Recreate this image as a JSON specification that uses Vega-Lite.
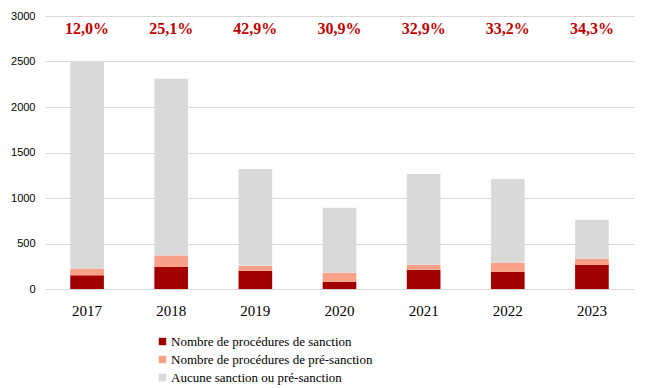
{
  "$schema": "https://vega.github.io/schema/vega-lite/v6.json",
  "width": 589,
  "height": 273,
  "autosize": {"type": "none"},
  "padding": {"left": 45, "top": 16, "right": 14, "bottom": 99},
  "background": "white",
  "config": {
    "view": {"stroke": null},
    "legend": {"labelFont": "Liberation Serif", "labelFontSize": 13, "labelColor": "#000000"}
  },
  "datasets": {
    "bars": [
      {"annee": "2017", "serie": "Nombre de procédures de sanction", "k": 1, "n": 150},
      {"annee": "2017", "serie": "Nombre de procédures de pré-sanction", "k": 2, "n": 75},
      {"annee": "2017", "serie": "Aucune sanction ou pré-sanction", "k": 3, "n": 2275},
      {"annee": "2018", "serie": "Nombre de procédures de sanction", "k": 1, "n": 245},
      {"annee": "2018", "serie": "Nombre de procédures de pré-sanction", "k": 2, "n": 122},
      {"annee": "2018", "serie": "Aucune sanction ou pré-sanction", "k": 3, "n": 1943},
      {"annee": "2019", "serie": "Nombre de procédures de sanction", "k": 1, "n": 201},
      {"annee": "2019", "serie": "Nombre de procédures de pré-sanction", "k": 2, "n": 55},
      {"annee": "2019", "serie": "Aucune sanction ou pré-sanction", "k": 3, "n": 1064},
      {"annee": "2020", "serie": "Nombre de procédures de sanction", "k": 1, "n": 80},
      {"annee": "2020", "serie": "Nombre de procédures de pré-sanction", "k": 2, "n": 99},
      {"annee": "2020", "serie": "Aucune sanction ou pré-sanction", "k": 3, "n": 713},
      {"annee": "2021", "serie": "Nombre de procédures de sanction", "k": 1, "n": 212},
      {"annee": "2021", "serie": "Nombre de procédures de pré-sanction", "k": 2, "n": 55},
      {"annee": "2021", "serie": "Aucune sanction ou pré-sanction", "k": 3, "n": 998},
      {"annee": "2022", "serie": "Nombre de procédures de sanction", "k": 1, "n": 190},
      {"annee": "2022", "serie": "Nombre de procédures de pré-sanction", "k": 2, "n": 99},
      {"annee": "2022", "serie": "Aucune sanction ou pré-sanction", "k": 3, "n": 921},
      {"annee": "2023", "serie": "Nombre de procédures de sanction", "k": 1, "n": 267},
      {"annee": "2023", "serie": "Nombre de procédures de pré-sanction", "k": 2, "n": 66},
      {"annee": "2023", "serie": "Aucune sanction ou pré-sanction", "k": 3, "n": 428}
    ],
    "labels": [
      {"annee": "2017", "label": "12,0%"},
      {"annee": "2018", "label": "25,1%"},
      {"annee": "2019", "label": "42,9%"},
      {"annee": "2020", "label": "30,9%"},
      {"annee": "2021", "label": "32,9%"},
      {"annee": "2022", "label": "33,2%"},
      {"annee": "2023", "label": "34,3%"}
    ]
  },
  "layer": [
    {
      "data": {"name": "bars"},
      "mark": {"type": "bar"},
      "encoding": {
        "x": {
          "field": "annee", "type": "nominal",
          "scale": {"paddingInner": 0.6, "paddingOuter": 0.3},
          "axis": {
            "title": null, "labelAngle": 0, "ticks": false,
            "domainColor": "#d9d9d9", "domainWidth": 1,
            "labelFont": "Liberation Serif", "labelFontSize": 15,
            "labelColor": "#000000", "labelPadding": 14
          }
        },
        "y": {
          "field": "n", "type": "quantitative", "stack": "zero",
          "scale": {"domain": [0, 3000], "nice": false},
          "axis": {
            "title": null, "values": [0, 500, 1000, 1500, 2000, 2500, 3000],
            "format": "d",
            "domain": false, "ticks": false,
            "gridColor": "#d9d9d9", "gridWidth": 1,
            "labelFont": "Liberation Sans", "labelFontSize": 11,
            "labelColor": "#000000", "labelPadding": 10
          }
        },
        "color": {
          "field": "serie", "type": "nominal",
          "scale": {
            "domain": ["Nombre de procédures de sanction", "Nombre de procédures de pré-sanction", "Aucune sanction ou pré-sanction"],
            "range": ["#a00000", "#f8a088", "#d9d9d9"]
          },
          "legend": {
            "title": null, "orient": "none", "legendX": 111, "legendY": 319,
            "symbolType": "square", "symbolSize": 55, "symbolStrokeWidth": 0,
            "labelFont": "Liberation Serif", "labelFontSize": 13,
            "labelColor": "#000000", "rowPadding": 4, "labelOffset": 2, "labelLimit": 400
          }
        },
        "order": {"field": "k", "type": "quantitative", "sort": "ascending"}
      }
    },
    {
      "data": {"name": "labels"},
      "mark": {"type": "text", "font": "Liberation Serif", "fontSize": 16, "fontWeight": "bold", "color": "#c00000", "baseline": "middle"},
      "encoding": {
        "x": {"field": "annee", "type": "nominal"},
        "y": {"datum": 2860},
        "text": {"field": "label"}
      }
    }
  ]
}
